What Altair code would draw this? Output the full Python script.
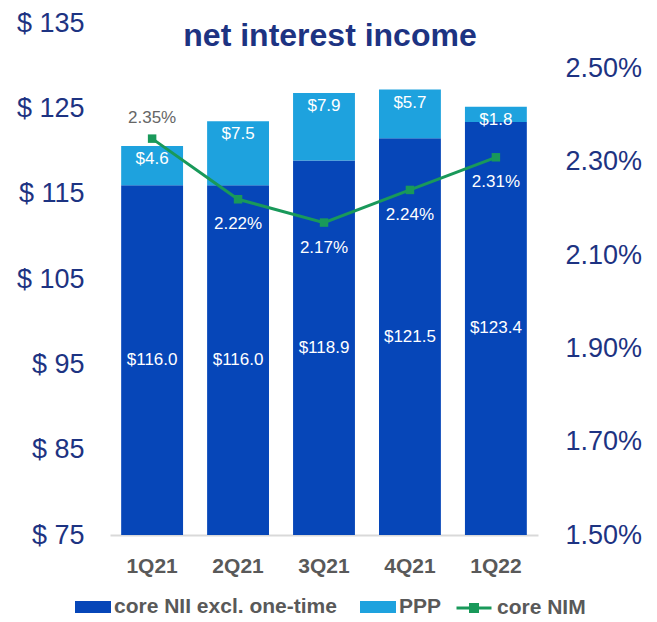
import altair as alt
import pandas as pd

quarters = ["1Q21", "2Q21", "3Q21", "4Q21", "1Q22"]
core_nii = [116.0, 116.0, 118.9, 121.5, 123.4]
ppp = [4.6, 7.5, 7.9, 5.7, 1.8]
core_nim = [2.35, 2.22, 2.17, 2.24, 2.31]
series_names = ["core NII excl. one-time", "PPP"]
nim_name = "core NIM"
left_ticks = [75, 85, 95, 105, 115, 125, 135]
right_ticks = [1.5, 1.7, 1.9, 2.1, 2.3, 2.5]

DARK = "#0646b8"
LIGHT = "#1ea2de"
GREEN = "#19995a"
NAVY = "#1d3382"
GRAY = "#595959"
FONT = "Liberation Sans"

y_min, y_max = 75, 135
r_min, r_max = 1.5, 2.598

rows = []
for i, q in enumerate(quarters):
    rows.append({"quarter": q, "series": series_names[0], "start": 0.0,
                 "end": core_nii[i], "value": core_nii[i], "order": 0})
    rows.append({"quarter": q, "series": series_names[1], "start": core_nii[i],
                 "end": core_nii[i] + ppp[i], "value": ppp[i], "order": 1})
bars_df = pd.DataFrame(rows)
nim_df = pd.DataFrame({"quarter": quarters, "nim": core_nim,
                       "metric": [nim_name] * len(quarters)})

x_enc = alt.X("quarter:N", sort=quarters, title=None,
              scale=alt.Scale(paddingInner=0.28, paddingOuter=0.13),
              axis=alt.Axis(labelAngle=0, labelFontSize=21, labelFont=FONT,
                            labelFontWeight="bold", labelColor=GRAY,
                            labelPadding=20, ticks=False, domain=True,
                            domainColor="#d9d9d9", domainWidth=2, grid=False))

left_scale = alt.Scale(domain=[y_min, y_max], zero=False, nice=False)
left_axis = alt.Axis(values=left_ticks, labelExpr="'$ ' + datum.value",
                     labelFontSize=27, labelFont=FONT, labelColor=NAVY,
                     labelPadding=26, ticks=False, domain=False, grid=False,
                     orient="left")
right_scale = alt.Scale(domain=[r_min, r_max], zero=False, nice=False)
right_axis = alt.Axis(values=right_ticks,
                      labelExpr="format(datum.value, '.2f') + '%'",
                      labelFontSize=27, labelFont=FONT, labelColor=NAVY,
                      labelPadding=27, ticks=False, domain=False, grid=False,
                      orient="right")

bars = alt.Chart(bars_df).mark_bar(clip=True).encode(
    x=x_enc,
    y=alt.Y("end:Q", scale=left_scale, axis=left_axis, title=None),
    y2="start:Q",
    order=alt.Order("order:Q"),
    fill=alt.Fill("series:N", scale=alt.Scale(domain=series_names, range=[DARK, LIGHT]),
                  legend=alt.Legend(title=None, orient="none", direction="horizontal",
                                    legendX=-35, legendY=566,
                                    symbolType="M-1,-0.333L1,-0.333L1,0.333L-1,0.333Z",
                                    symbolSize=1296, symbolStrokeWidth=0,
                                    labelFont=FONT, labelFontSize=21,
                                    labelFontWeight="bold", labelColor=GRAY,
                                    labelOffset=3, columnPadding=23,
                                    labelLimit=400)),
)

core_labels = alt.Chart(bars_df).transform_filter(
    alt.datum.order == 0
).transform_calculate(
    mid=f"({y_min} + datum.value) / 2",
    txt="'$' + format(datum.value, '.1f')"
).mark_text(color="white", fontSize=17, font=FONT, baseline="middle").encode(
    x=alt.X("quarter:N", sort=quarters),
    y=alt.Y("mid:Q", scale=left_scale, axis=left_axis, title=None),
    text="txt:N",
)

ppp_labels = alt.Chart(bars_df).transform_filter(
    alt.datum.order == 1
).transform_calculate(
    txt="'$' + format(datum.value, '.1f')"
).mark_text(color="white", fontSize=17, font=FONT, baseline="middle", dy=13).encode(
    x=alt.X("quarter:N", sort=quarters),
    y=alt.Y("end:Q", scale=left_scale, axis=left_axis, title=None),
    text="txt:N",
)

left_layer = alt.layer(bars, core_labels, ppp_labels)

line = alt.Chart(nim_df).mark_line(strokeWidth=3).encode(
    x=alt.X("quarter:N", sort=quarters),
    y=alt.Y("nim:Q", scale=right_scale, axis=right_axis, title=None),
    stroke=alt.Stroke("metric:N", scale=alt.Scale(domain=[nim_name], range=[GREEN]),
                      legend=alt.Legend(title=None, orient="none",
                                        legendX=345, legendY=566,
                                        symbolType="M-1,0L1,0M-0.2,-0.2L0.2,-0.2L0.2,0.2L-0.2,0.2Z",
                                        symbolSize=1225, symbolStrokeWidth=3,
                                        symbolFillColor=GREEN, symbolStrokeColor=GREEN,
                                        labelFont=FONT, labelFontSize=21,
                                        labelFontWeight="bold", labelColor=GRAY,
                                        labelOffset=4)),
)
points = alt.Chart(nim_df).mark_point(shape="square", filled=True, size=72,
                                      color=GREEN, opacity=1).encode(
    x=alt.X("quarter:N", sort=quarters),
    y=alt.Y("nim:Q", scale=right_scale, axis=right_axis, title=None),
)
nim_txt = "format(datum.nim, '.2f') + '%'"
nim_above = alt.Chart(nim_df).transform_filter(
    alt.datum.quarter == quarters[0]
).transform_calculate(txt=nim_txt).mark_text(
    color="#666666", fontSize=17, font=FONT, baseline="middle", dy=-21
).encode(
    x=alt.X("quarter:N", sort=quarters),
    y=alt.Y("nim:Q", scale=right_scale, axis=right_axis, title=None),
    text="txt:N",
)
nim_below = alt.Chart(nim_df).transform_filter(
    alt.datum.quarter != quarters[0]
).transform_calculate(txt=nim_txt).mark_text(
    color="white", fontSize=17, font=FONT, baseline="middle", dy=25
).encode(
    x=alt.X("quarter:N", sort=quarters),
    y=alt.Y("nim:Q", scale=right_scale, axis=right_axis, title=None),
    text="txt:N",
)
right_layer = alt.layer(line, points, nim_above, nim_below)

chart = alt.layer(left_layer, right_layer).resolve_scale(
    y="independent"
).properties(
    width=428, height=512,
    title=alt.TitleParams("net interest income", fontSize=32, fontWeight="bold",
                          font=FONT, color=NAVY, anchor="middle", frame="group",
                          baseline="alphabetic", offset=0, dy=69, dx=6),
    autosize=alt.AutoSizeParams(type="none"),
    padding={"left": 102, "top": 15, "right": 111, "bottom": 85},
).configure_view(stroke=None)

chart.save("out.html", embed_options={"renderer": "svg", "actions": False})
